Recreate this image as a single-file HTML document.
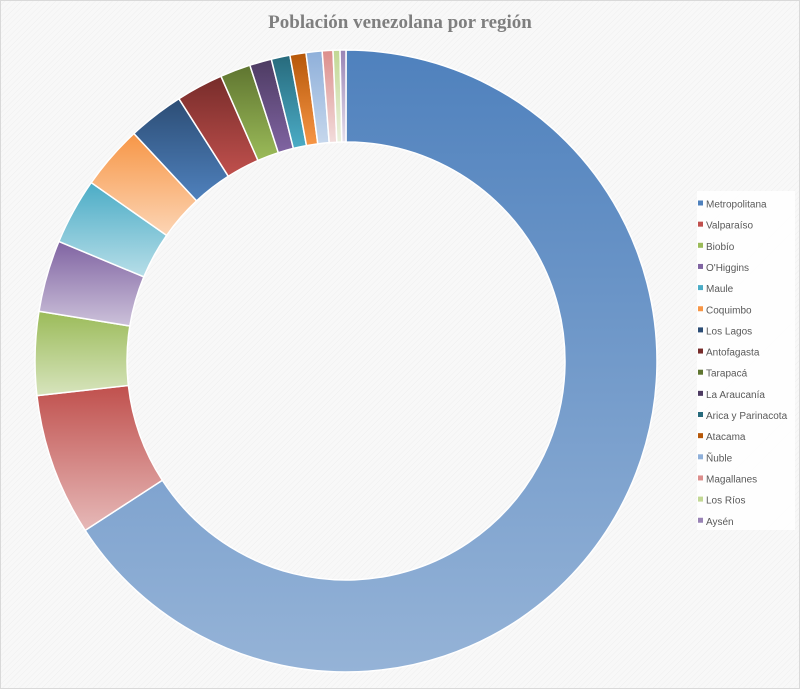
<!DOCTYPE html>
<html><head><meta charset="utf-8"><style>
body{margin:0;background:#f6f6f6}
svg{display:block}
</style></head><body>
<svg id="s" width="800" height="689" xmlns="http://www.w3.org/2000/svg">
<defs>
<pattern id="hatch" width="4" height="4" patternUnits="userSpaceOnUse" patternTransform="rotate(45)">
<rect width="4" height="4" fill="#f8f8f8"/><line x1="0" y1="0" x2="0" y2="4" stroke="#efefef" stroke-width="1"/>
</pattern>
</defs>
<rect width="800" height="689" fill="url(#hatch)"/>
<rect x="0.5" y="0.5" width="799" height="688" fill="none" stroke="#d9d9d9"/>
<text x="400" y="28" text-anchor="middle" font-family="Liberation Serif, serif" font-weight="bold" font-size="19" fill="#7f7f7f">Población venezolana por región</text>
<g id="pie"></g>
<rect x="697" y="191" width="98" height="339" fill="#ffffff" opacity="0.85"/>
<g id="leg" font-family="Liberation Sans, sans-serif" font-size="10" fill="#595959"></g>
</svg>
<script>
var names=["Metropolitana","Valparaíso","Biobío","O'Higgins","Maule","Coquimbo","Los Lagos","Antofagasta","Tarapacá","La Araucanía","Arica y Parinacota","Atacama","Ñuble","Magallanes","Los Ríos","Aysén"];
var ends=[237,263.6,279.2,292.6,305,317,327.5,336.3,342,346.1,349.6,352.6,355.6,357.6,358.9,360];
var dark=["#4f81bd","#c0504d","#9bbb59","#8064a2","#4bacc6","#f79646","#2c4d75","#772c2a","#5f7530","#4d3b62","#276a7c","#b65708","#8fb0da","#dc8e8c","#c2d894","#9983b5"];
var light=["#95b3d7","#e6b9b8","#d7e4bd","#ccc1da","#b7dee8","#fcd5b5","#4f81bd","#c0504d","#9bbb59","#8064a2","#4bacc6","#f79646","#c6d7ec","#f2dcdb","#ebf1de","#e6e0ec"];
var cx=346,cy=361,R=311,r=219,ns="http://www.w3.org/2000/svg";
var defs=document.querySelector("defs"),pie=document.getElementById("pie"),leg=document.getElementById("leg");
function pt(a,rad){a=a*Math.PI/180;return [cx+rad*Math.sin(a),cy-rad*Math.cos(a)];}
var st=0;
for(var i=0;i<16;i++){
 var g=document.createElementNS(ns,"linearGradient");g.setAttribute("id","g"+i);
 g.setAttribute("x1","0");g.setAttribute("y1","0");g.setAttribute("x2","0");g.setAttribute("y2","1");
 g.innerHTML='<stop offset="0" stop-color="'+dark[i]+'"/><stop offset="1" stop-color="'+light[i]+'"/>';
 defs.appendChild(g);
 var e=ends[i],la=(e-st)>180?1:0;
 var p1=pt(st,R),p2=pt(e,R),p3=pt(e,r),p4=pt(st,r);
 var d="M"+p1+"A"+R+","+R+" 0 "+la+" 1 "+p2+"L"+p3+"A"+r+","+r+" 0 "+la+" 0 "+p4+"Z";
 var p=document.createElementNS(ns,"path");p.setAttribute("d",d);p.setAttribute("fill","url(#g"+i+")");
 p.setAttribute("stroke","#ffffff");p.setAttribute("stroke-width","1.5");pie.appendChild(p);
 st=e;
 var y=203.5+i*21.15;
 var m=document.createElementNS(ns,"rect");m.setAttribute("x","698");m.setAttribute("y",y-3);m.setAttribute("width","5");m.setAttribute("height","5");m.setAttribute("fill",dark[i]);leg.appendChild(m);
 var t=document.createElementNS(ns,"text");t.setAttribute("x","706");t.setAttribute("y",y+4);t.textContent=names[i];leg.appendChild(t);
}
</script>
</body></html>
